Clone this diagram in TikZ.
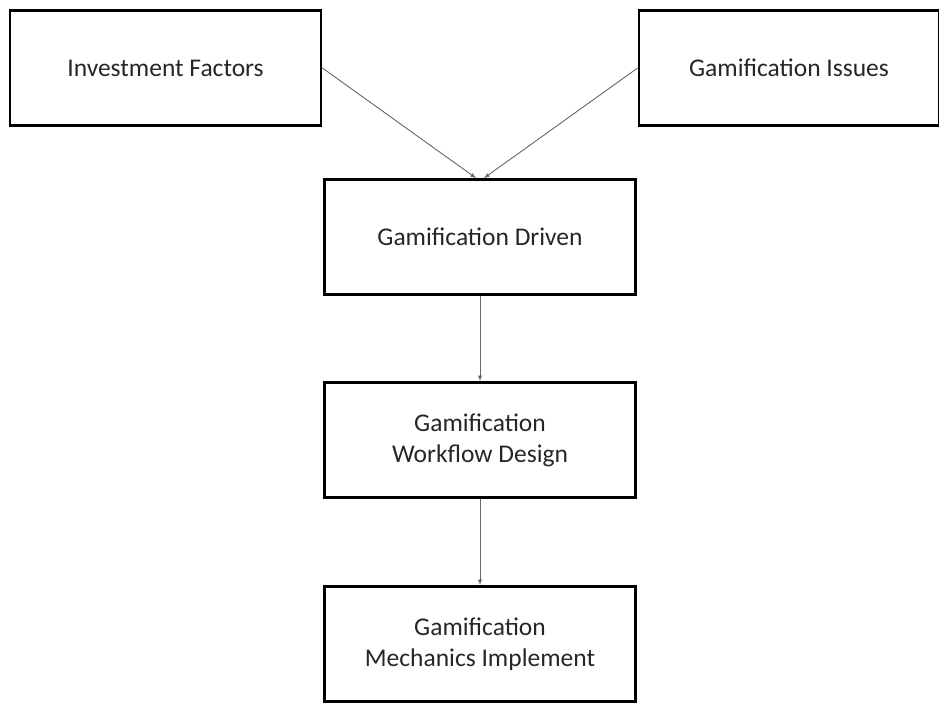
\documentclass[tikz,border=0pt]{standalone}
\usepackage{fontspec}
\setmainfont{Carlito}
\begin{document}
\begin{tikzpicture}[x=1pt, y=-1pt, >=latex,
    box/.style={draw, line width=2.8pt, minimum width=311pt, minimum height=115pt,
        align=center, font=\fontsize{25.5}{31}\selectfont, text=black!85},
    link/.style={->, gray!80!black, line width=0.9pt}]
\useasboundingbox (0,0) rectangle (939,702);
\node[box] (inv) at (165.5,68) {Investment Factors};
\node[box, minimum width=300pt] (iss) at (789,68) {Gamification Issues};
\node[box] (drv) at (480,237) {Gamification Driven};
\node[box] (wfd) at (480,440) {Gamification\\Workflow Design};
\node[box] (mech) at (480,644) {Gamification\\Mechanics Implement};
\draw[link] (inv.east)--([xshift=-4pt]drv.north);
\draw[link] (iss.west)--([xshift=4pt]drv.north);
\draw[link] (drv)--(wfd);
\draw[link] (wfd)--(mech);
\end{tikzpicture}
\end{document}
